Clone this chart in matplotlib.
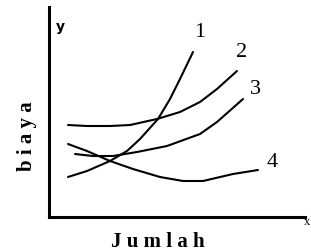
import matplotlib.pyplot as plt

# curve points (origin at the axis corner)
x1 = [19, 38, 61, 78, 91, 109, 121, 131, 144]
y1 = [40, 46, 56, 66, 78, 98, 118, 138, 165]
x2 = [19, 38, 61, 81, 108, 131, 151, 168, 188]
y2 = [92, 91, 91, 92, 98, 105, 115, 128, 146]
x3 = [26, 44, 64, 88, 118, 151, 168, 194]
y3 = [63, 61, 61, 65, 71, 83, 95, 118]
x4 = [19, 38, 61, 84, 111, 134, 154, 184, 209]
y4 = [73, 66, 56, 48, 40, 36, 36, 43, 47]
curves = [(x1, y1), (x2, y2), (x3, y3), (x4, y4)]
names = ['1', '2', '3', '4']
name_pos = [(151, 185), (193, 165), (206, 128), (223, 55)]

plt.rcParams['font.family'] = ['Liberation Serif', 'DejaVu Serif']

fig = plt.figure(figsize=(3.11, 2.51), dpi=100)
ax = fig.add_axes([49/311, 33/251, 256/311, 210/251])

for (xs, ys) in curves:
    ax.plot(xs, ys, color='black', lw=1.5, solid_capstyle='round', solid_joinstyle='round')

for n, (px, py) in zip(names, name_pos):
    ax.text(px, py, n, fontsize=16, ha='center', va='center')

ax.set_xlim(0, 256)
ax.set_ylim(0, 210)
ax.set_xticks([])
ax.set_yticks([])
for s in ['top', 'right']:
    ax.spines[s].set_visible(False)
for s in ['left', 'bottom']:
    ax.spines[s].set_linewidth(2.2)

ax.text(7, 191, 'y', fontsize=10, fontweight='bold', family='DejaVu Sans', ha='left', va='center')
fig.text(304/311, 1 - 222/251, 'x', fontsize=9, ha='left', va='center')
fig.text(27/311, 1 - 136/251, 'b i a y a', fontsize=15, fontweight='bold', rotation=90, ha='center', va='center')
fig.text(158/311, 1 - 242/251, 'J u m l a h', fontsize=15, fontweight='bold', ha='center', va='center')

fig.savefig('out.png', dpi=100)
